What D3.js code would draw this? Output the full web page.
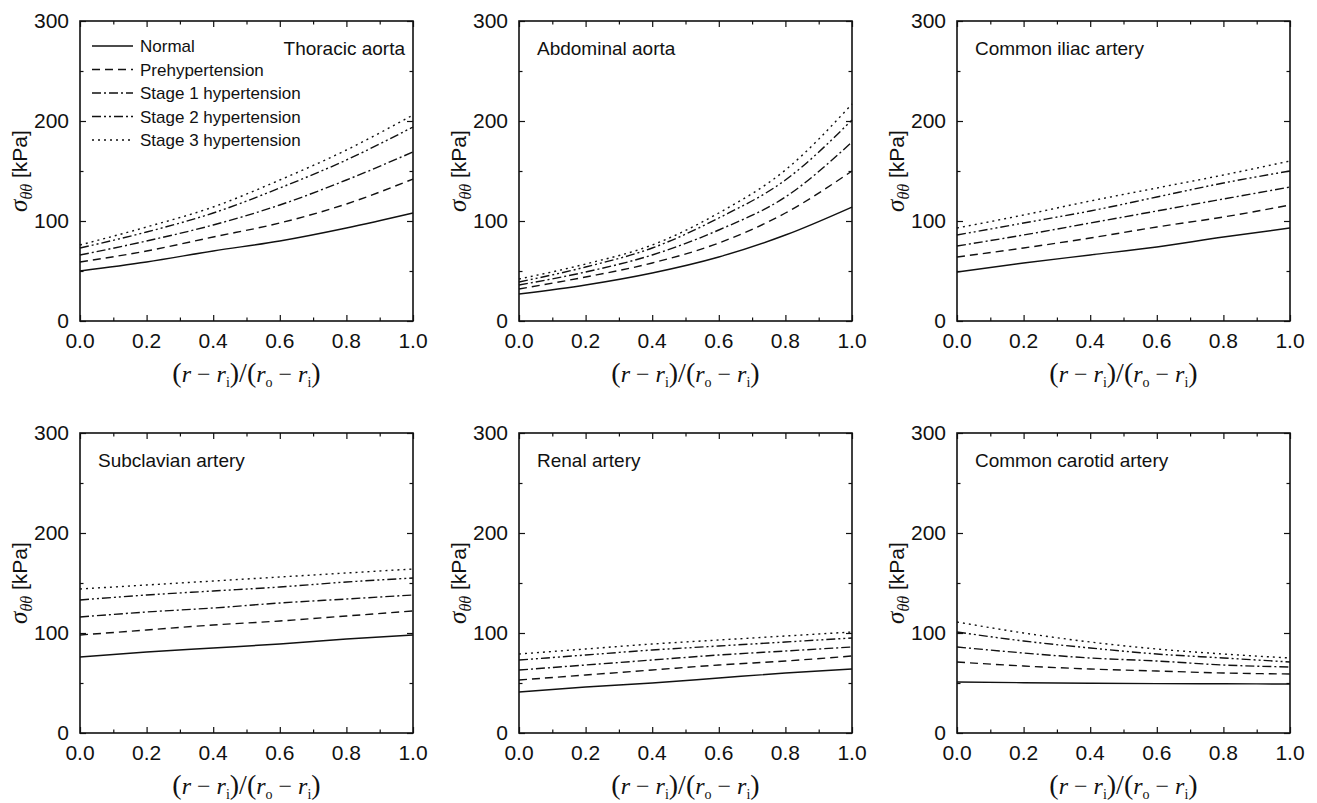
<!DOCTYPE html>
<html>
<head>
<meta charset="utf-8">
<script src="https://cdn.jsdelivr.net/npm/d3@7"></script>
<style>
  body { margin: 0; background: #fff; }
  svg { display: block; }
  text { fill: #111; }
</style>
</head>
<body>
<div id="chart"></div>
<script>
// normalised radial position through the wall
var xPos = [0, 0.2, 0.4, 0.6, 0.8, 1.0];
var xTicks = [0, 0.2, 0.4, 0.6, 0.8, 1.0];
var xMinor = [0.1, 0.3, 0.5, 0.7, 0.9];
var yTicks = [0, 100, 200, 300];
var yMinor = [50, 150, 250];

var seriesNames = ["Normal", "Prehypertension", "Stage 1 hypertension", "Stage 2 hypertension", "Stage 3 hypertension"];
var arteryNames = ["Thoracic aorta", "Abdominal aorta", "Common iliac artery",
                   "Subclavian artery", "Renal artery", "Common carotid artery"];

// circumferential stress [kPa], one row per series
var thoracic = [
  [50, 59, 70, 80, 93, 108],
  [59, 70, 84, 98, 117, 142],
  [66, 80, 96, 116, 141, 169],
  [73, 89, 108, 133, 161, 194],
  [76, 94, 114, 141, 171, 206]
];
var abdominal = [
  [27, 36, 48, 64, 86, 114],
  [32, 44, 58, 78, 108, 150],
  [36, 49, 66, 91, 124, 179],
  [39, 54, 73, 103, 141, 201],
  [42, 57, 76, 108, 151, 217]
];
var iliac = [
  [49, 58, 66, 74, 84, 93],
  [64, 73, 83, 94, 104, 116],
  [75, 86, 98, 110, 122, 134],
  [86, 98, 110, 124, 138, 150],
  [93, 106, 120, 133, 146, 160]
];
var subclavian = [
  [76, 81, 85, 89, 94, 98],
  [98, 103, 108, 112, 117, 122],
  [116, 121, 125, 130, 134, 138],
  [133, 138, 142, 146, 151, 155],
  [144, 148, 152, 156, 160, 164]
];
var renal = [
  [41, 46, 50, 55, 60, 64],
  [53, 58, 63, 68, 72, 77],
  [63, 68, 73, 78, 82, 86],
  [73, 78, 83, 87, 91, 95],
  [79, 84, 89, 93, 97, 101]
];
var carotid = [
  [51, 50.3, 49.8, 49.4, 49.2, 49],
  [71, 67, 64, 62, 60, 59],
  [86, 80, 75, 72, 68, 66],
  [101, 92, 85, 79, 75, 71],
  [111, 100, 91, 84, 79, 75]
];
var panelData = [thoracic, abdominal, iliac, subclavian, renal, carotid];

var dashes = [null, "8,5", "9,3,2,3", "9,3,2,3,2,3", "2,4"];

var W = 1317, H = 803;
var panelLeft = [80, 519, 957], panelTop = [21, 433];
var pw = 333, ph = 300;
var sans = "Arial, 'Liberation Sans', sans-serif";
var serif = "'Times New Roman', 'Liberation Serif', serif";

var svg = d3.select("#chart").append("svg")
  .attr("width", W).attr("height", H);

var x = d3.scaleLinear().domain([0, 1]).range([0, pw]);
var y = d3.scaleLinear().domain([0, 300]).range([ph, 0]);

var line = d3.line()
  .x(function(d) { return x(d[0]); })
  .y(function(d) { return y(d[1]); })
  .curve(d3.curveMonotoneX);

panelData.forEach(function(rows, p) {
  var g = svg.append("g")
    .attr("transform", "translate(" + panelLeft[p % 3] + "," + panelTop[Math.floor(p / 3)] + ")");

  // inward ticks on all four sides
  function tickAxis(axisFn, scale, vals, size, tr) {
    var a = g.append("g").attr("transform", tr || null)
      .call(axisFn(scale).tickValues(vals).tickSize(-size).tickFormat(""));
    a.select(".domain").remove();
    a.selectAll("line").attr("stroke", "#111").attr("stroke-width", 1.2);
  }
  tickAxis(d3.axisBottom, x, xTicks, 6, "translate(0," + ph + ")");
  tickAxis(d3.axisBottom, x, xMinor, 3.5, "translate(0," + ph + ")");
  tickAxis(d3.axisTop, x, xTicks, 6);
  tickAxis(d3.axisTop, x, xMinor, 3.5);
  tickAxis(d3.axisLeft, y, yTicks, 6);
  tickAxis(d3.axisLeft, y, yMinor, 3.5);
  tickAxis(d3.axisRight, y, yTicks, 6, "translate(" + pw + ",0)");
  tickAxis(d3.axisRight, y, yMinor, 3.5, "translate(" + pw + ",0)");

  g.append("rect")
    .attr("width", pw).attr("height", ph)
    .attr("fill", "none").attr("stroke", "#111").attr("stroke-width", 1.6);

  // tick labels
  g.selectAll(".xl").data(xTicks).enter().append("text")
    .attr("x", function(d) { return x(d); })
    .attr("y", ph + 27)
    .attr("text-anchor", "middle")
    .style("font", "21px " + sans)
    .text(function(d) { return d3.format(".1f")(d); });
  g.selectAll(".yl").data(yTicks).enter().append("text")
    .attr("x", -11)
    .attr("y", function(d) { return y(d) + 7; })
    .attr("text-anchor", "end")
    .style("font", "21px " + sans)
    .text(function(d) { return d; });

  // y axis title
  var yt = g.append("text")
    .attr("transform", "translate(-53," + (ph / 2) + ") rotate(-90)")
    .attr("text-anchor", "middle")
    .style("font", "21px " + sans);
  yt.append("tspan").style("font", "italic 25px " + serif).text("σ");
  yt.append("tspan").style("font", "italic 16px " + serif).attr("dy", 5).text("θθ");
  yt.append("tspan").attr("dy", -5).text(" [kPa]");

  // x axis title
  var xt = g.append("text")
    .attr("x", pw / 2).attr("y", ph + 61)
    .attr("text-anchor", "middle")
    .style("font", "24px " + serif);
  xt.append("tspan").style("font-size", "28px").text("(");
  xt.append("tspan").style("font-style", "italic").text("r");
  xt.append("tspan").text(" − ");
  xt.append("tspan").style("font-style", "italic").text("r");
  xt.append("tspan").style("font-size", "14px").attr("dy", 5).text("i");
  xt.append("tspan").style("font-size", "28px").attr("dy", -5).text(")/(");
  xt.append("tspan").style("font-style", "italic").text("r");
  xt.append("tspan").style("font-size", "14px").attr("dy", 5).text("o");
  xt.append("tspan").attr("dy", -5).text(" − ");
  xt.append("tspan").style("font-style", "italic").text("r");
  xt.append("tspan").style("font-size", "14px").attr("dy", 5).text("i");
  xt.append("tspan").style("font-size", "28px").attr("dy", -5).text(")");

  // curves
  rows.forEach(function(vals, s) {
    g.append("path")
      .datum(vals.map(function(v, i) { return [xPos[i], v]; }))
      .attr("d", line)
      .attr("fill", "none")
      .attr("stroke", "#111")
      .attr("stroke-width", 1.4)
      .attr("stroke-dasharray", dashes[s]);
  });

  // panel title
  if (p === 0) {
    g.append("text").attr("x", pw - 8).attr("y", 34)
      .attr("text-anchor", "end")
      .style("font", "19px " + sans)
      .text(arteryNames[p]);

    var leg = g.selectAll(".leg").data(seriesNames).enter().append("g")
      .attr("transform", function(d, i) { return "translate(12," + (25 + i * 23.5) + ")"; });
    leg.append("line")
      .attr("x1", 0).attr("x2", 41)
      .attr("stroke", "#111").attr("stroke-width", 1.4)
      .attr("stroke-dasharray", function(d, i) { return dashes[i]; });
    leg.append("text")
      .attr("x", 48).attr("y", 6)
      .style("font", "17px " + sans)
      .text(function(d) { return d; });
  } else {
    g.append("text").attr("x", 18).attr("y", 34)
      .style("font", "19px " + sans)
      .text(arteryNames[p]);
  }
});
</script>
</body>
</html>
